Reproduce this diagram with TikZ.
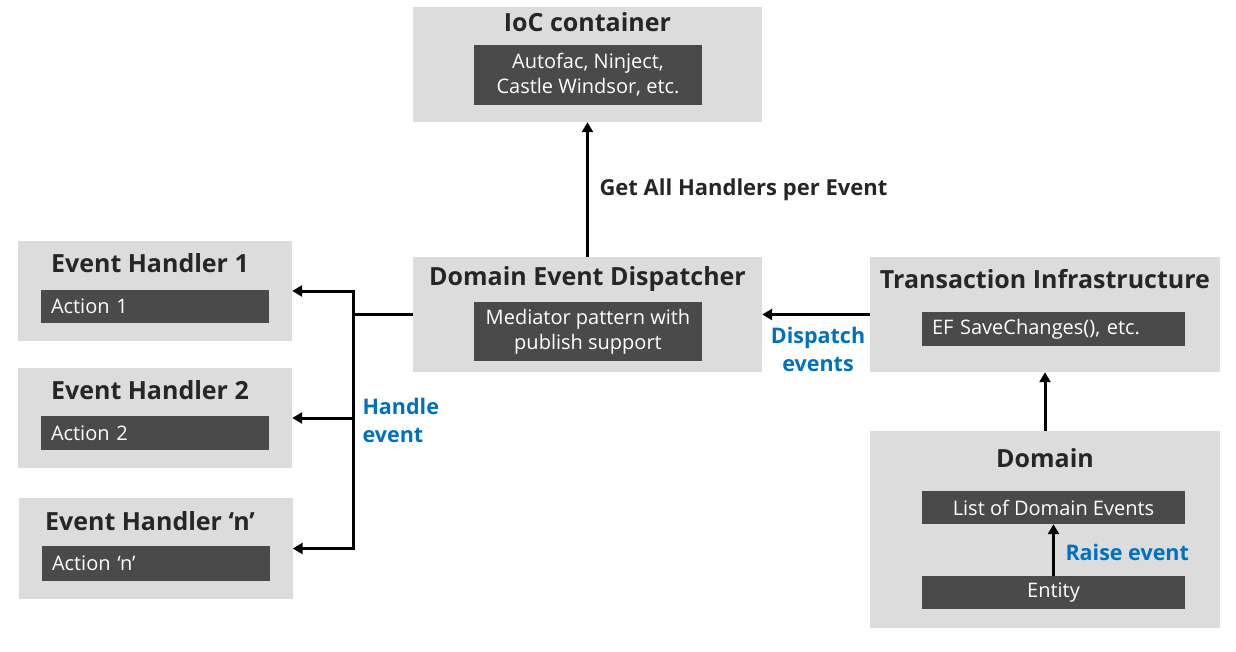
\documentclass[tikz,border=0pt]{standalone}
\usepackage{fontspec}
\setmainfont{Open Sans}
\usetikzlibrary{arrows.meta}
\definecolor{boxgray}{HTML}{DCDCDC}
\definecolor{innergray}{HTML}{4A4A4A}
\definecolor{labelblue}{HTML}{0070C0}
\definecolor{textdark}{HTML}{262626}
\tikzset{
  outerbox/.style={fill=boxgray, inner sep=0pt},
  boxtitle/.style={font=\fontsize{25}{29}\selectfont\bfseries, text=textdark},
  innerbox/.style={fill=innergray, text=white, font=\fontsize{20}{25}\selectfont, inner sep=0pt, align=center},
  actionbox/.style={innerbox, inner xsep=10pt, text width=208pt, align=left},
  bluelabel/.style={font=\fontsize{21.5}{28}\selectfont\bfseries, text=labelblue},
  conn/.style={line width=3pt, -{Triangle[length=10pt,width=11pt]}},
  plainconn/.style={line width=3pt},
}
\begin{document}
\begin{tikzpicture}[x=1pt,y=-1pt]
  \useasboundingbox (0,0) rectangle (1236,651);
  % IoC container
  \node[outerbox, minimum width=349pt, minimum height=115pt] (ioc) at (587.5,64.5) {};
  \node[boxtitle] (ioctitle) at (587.5,22) {IoC container};
  \node[innerbox, minimum width=228pt, minimum height=60pt] (iocinner) at (588,75) {Autofac, Ninject,\\Castle Windsor, etc.};
  % dispatcher
  \node[outerbox, minimum width=349pt, minimum height=115pt] (dispatcher) at (587.5,314.5) {};
  \node[boxtitle] (dispatchertitle) at (587.5,279) {Domain Event Dispatcher};
  \node[innerbox, minimum width=228pt, minimum height=59pt] (mediator) at (588,331.5) {Mediator pattern with\\publish support};
  % event handlers
  \node[outerbox, minimum width=274pt, minimum height=100pt] (handler1) at (155,291) {};
  \node[boxtitle] (handler1title) at (150,263) {Event Handler 1};
  \node[actionbox, minimum height=33pt] (action1) at (155,306.5) {Action 1};
  \node[outerbox, minimum width=274pt, minimum height=100pt] (handler2) at (155,418) {};
  \node[boxtitle] (handler2title) at (150,390) {Event Handler 2};
  \node[actionbox, minimum height=34pt] (action2) at (155,433) {Action 2};
  \node[outerbox, minimum width=274pt, minimum height=101pt] (handlern) at (155.5,548.5) {};
  \node[boxtitle] (handlerntitle) at (150,521) {Event Handler ‘n’};
  \node[actionbox, minimum height=35pt] (actionn) at (156,563.5) {Action ‘n’};
  % transaction infrastructure
  \node[outerbox, minimum width=350pt, minimum height=115pt] (transaction) at (1045,314.5) {};
  \node[boxtitle] (transactiontitle) at (1045,279) {Transaction Infrastructure};
  \node[innerbox, inner xsep=10pt, text width=243pt, align=left, minimum height=34pt] (savechanges) at (1053.5,329) {EF SaveChanges(), etc.};
  % domain
  \node[outerbox, minimum width=350pt, minimum height=197pt] (domain) at (1045,529.5) {};
  \node[boxtitle] (domaintitle) at (1045,458) {Domain};
  \node[innerbox, minimum width=263pt, minimum height=33pt] (eventlist) at (1053.5,507.5) {List of Domain Events};
  \node[innerbox, minimum width=263pt, minimum height=33pt] (entity) at (1053.5,592.5) {Entity};
  % connectors
  \draw[conn] (dispatcher.north) -- (ioc.south);
  \node[anchor=west, font=\fontsize{22}{26}\selectfont\bfseries, text=textdark] (getall) at (596,190) {Get All Handlers per Event};
  \draw[conn] (transaction.west) -- (dispatcher.east);
  \node[bluelabel, align=center] (dispatchlabel) at (818,349) {Dispatch\\events};
  \draw[conn] (domain.north) -- (transaction.south);
  \draw[conn] (entity.north) -- (eventlist.south);
  \node[bluelabel, anchor=west] (raiselabel) at (1062,552) {Raise event};
  \coordinate (split) at (353,314.5);
  \draw[plainconn] (dispatcher.west) -- (split);
  \draw[conn] (split) |- (handler1.east);
  \draw[conn] (split) |- (handler2.east);
  \draw[conn] (split) |- (handlern.east);
  \node[bluelabel, anchor=west, align=left] (handlelabel) at (359,420) {Handle\\event};
\end{tikzpicture}
\end{document}
